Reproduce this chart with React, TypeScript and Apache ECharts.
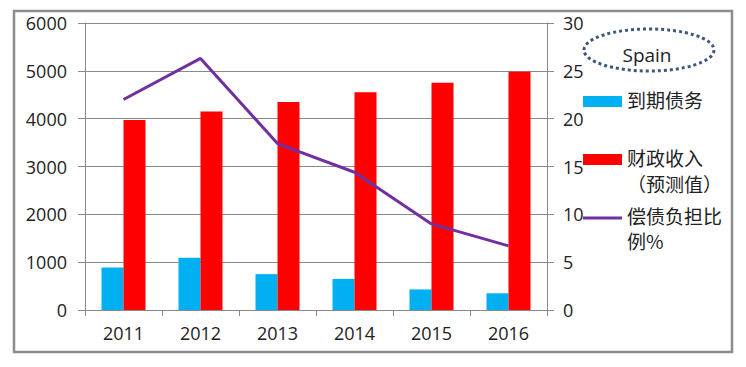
import React, { useEffect, useRef } from "react";
import * as echarts from "echarts";

const years = ["2011", "2012", "2013", "2014", "2015", "2016"];
const maturingDebt = [890, 1090, 750, 650, 430, 350];
const fiscalRevenue = [3970, 4150, 4350, 4550, 4750, 4980];
const burdenRatio = [22.0, 26.3, 17.4, 14.4, 9.0, 6.7];
const legendNames = ["到期债务", "财政收入\n（预测值）", "偿债负担比\n例%"];
const countryLabel = "Spain";

const GRAY = "#8a8a8a";
const NUM_FONT = "'Open Sans', 'DejaVu Sans', sans-serif";
const CJK_FONT = "'Noto Sans CJK SC', sans-serif";

export default function App() {
  const ref = useRef<HTMLDivElement>(null);
  useEffect(() => {
    if (!ref.current) return;
    const chart = echarts.init(ref.current, null, { renderer: "svg" });
    chart.setOption({
      animation: false,
      backgroundColor: "#ffffff",
      grid: { left: 85, right: 199, top: 23, bottom: 57, containLabel: false },
      xAxis: {
        type: "category",
        data: years,
        axisLine: { show: true, lineStyle: { color: GRAY, width: 1 } },
        axisTick: { show: true, length: 6, alignWithLabel: false, lineStyle: { color: GRAY } },
        axisLabel: { fontSize: 18, color: "#222", fontFamily: NUM_FONT, margin: 14 },
      },
      yAxis: [
        {
          type: "value",
          min: 0,
          max: 6000,
          interval: 1000,
          axisLine: { show: true, lineStyle: { color: GRAY, width: 1 } },
          axisTick: { show: true, length: 7, lineStyle: { color: GRAY } },
          splitLine: { show: true, lineStyle: { color: GRAY, width: 1 } },
          axisLabel: {
            fontSize: 18,
            color: "#222",
            fontFamily: NUM_FONT,
            margin: 18,
            formatter: (v: number) => String(v),
          },
        },
        {
          type: "value",
          min: 0,
          max: 30,
          interval: 5,
          position: "right",
          axisLine: { show: true, lineStyle: { color: GRAY, width: 1 } },
          axisTick: { show: true, length: 7, lineStyle: { color: GRAY } },
          splitLine: { show: false },
          axisLabel: {
            fontSize: 18,
            color: "#222",
            fontFamily: NUM_FONT,
            margin: 16,
            formatter: (v: number) => String(v),
          },
        },
      ],
      series: [
        {
          name: legendNames[0],
          type: "bar",
          data: maturingDebt,
          barWidth: 22,
          barGap: "0%",
          itemStyle: { color: "#00B0F0" },
        },
        {
          name: legendNames[1],
          type: "bar",
          data: fiscalRevenue,
          barWidth: 22,
          barGap: "0%",
          itemStyle: { color: "#FF0000" },
        },
        {
          name: legendNames[2],
          type: "line",
          yAxisIndex: 1,
          data: burdenRatio,
          symbol: "none",
          lineStyle: { color: "#7030A0", width: 3 },
          z: 5,
        },
      ],
      graphic: [
        {
          type: "rect",
          shape: { x: 14, y: 11, width: 718, height: 341 },
          style: { fill: "none", stroke: "#8c8c8c", lineWidth: 2.5 },
          silent: true,
        },
        {
          type: "ellipse",
          shape: { cx: 649, cy: 50, rx: 65, ry: 21 },
          style: { fill: "none", stroke: "#3f5878", lineWidth: 3, lineDash: [3, 3] },
        },
        {
          type: "text",
          x: 647,
          y: 55,
          style: {
            text: countryLabel,
            fontSize: 19,
            fontFamily: NUM_FONT,
            fill: "#222",
            align: "center",
            verticalAlign: "middle",
          },
        },
        {
          type: "rect",
          shape: { x: 583, y: 96, width: 39, height: 11 },
          style: { fill: "#00B0F0" },
        },
        {
          type: "text",
          x: 627,
          y: 99,
          style: {
            text: legendNames[0],
            fontSize: 19,
            fontFamily: CJK_FONT,
            fill: "#222",
            align: "left",
            verticalAlign: "middle",
          },
        },
        {
          type: "rect",
          shape: { x: 583, y: 154, width: 39, height: 11 },
          style: { fill: "#FF0000" },
        },
        {
          type: "text",
          x: 627,
          y: 170,
          style: {
            text: legendNames[1],
            fontSize: 19,
            fontFamily: CJK_FONT,
            fill: "#222",
            align: "left",
            verticalAlign: "middle",
            lineHeight: 26,
          },
        },
        {
          type: "line",
          shape: { x1: 583, y1: 218, x2: 622, y2: 218 },
          style: { stroke: "#7030A0", lineWidth: 3 },
        },
        {
          type: "text",
          x: 627,
          y: 228,
          style: {
            text: legendNames[2],
            fontSize: 19,
            fontFamily: CJK_FONT,
            fill: "#222",
            align: "left",
            verticalAlign: "middle",
            lineHeight: 25,
          },
        },
      ],
    });
    return () => chart.dispose();
  }, []);
  return (
    <div
      ref={ref}
      style={{ position: "fixed", left: 0, top: 0, width: 746, height: 367, background: "#fff" }}
    />
  );
}
